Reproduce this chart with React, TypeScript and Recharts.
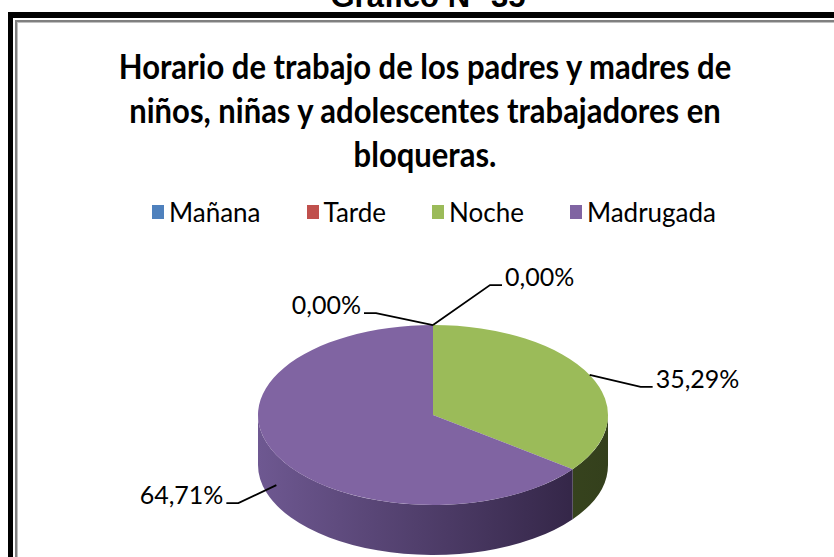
import { PieChart, Pie, Cell, Legend } from "recharts";

const categories = ["Mañana", "Tarde", "Noche", "Madrugada"];
const percentages = [0, 0, 35.29, 64.71];
const titleLines = [
  "Horario de trabajo de los padres y madres de",
  "niños, niñas y adolescentes trabajadores en",
  "bloqueras.",
];
const caption = "Gráfico N° 35";

const COLORS = ["#4f81bd", "#c0504d", "#9bbb59", "#8064a2"];
const SIDE_COLORS = [
  ["#3d6596", "#22395a"],
  ["#9a3e3b", "#5a2422"],
  ["#4b5b2a", "#34401c"],
  ["#6e5891", "#2e2140"],
];
// leader line elbows for each label (dx, dy from the slice anchor)
const LEADERS = [
  { dx: -57, dy: -12 },
  { dx: 57, dy: -40 },
  { dx: 51, dy: 12 },
  { dx: -38, dy: 18 },
];

const TILT = 0.514;
const DEPTH = 50;
const LEGEND_OFFSET = 35; // recharts shifts the plot down by the legend's height
const FONT = "Lato, 'Open Sans', sans-serif";

const data = categories.map((name, i) => ({ name, value: percentages[i] }));

const RAD = Math.PI / 180;
const pt = (cx: number, cy: number, rx: number, ry: number, a: number) => [
  cx + rx * Math.cos(a * RAD),
  cy - ry * Math.sin(a * RAD),
];

const Slice3D = (props: any) => {
  const { cx, cy, outerRadius, startAngle, endAngle } = props;
  const name = props.name ?? props.payload?.name;
  const idx = Math.max(0, categories.indexOf(name));
  const rx = outerRadius;
  const ry = outerRadius * TILT;
  const hi = Math.max(startAngle, endAngle);
  const lo = Math.min(startAngle, endAngle);
  if (hi - lo <= 0.001) return <g />;
  const [x1, y1] = pt(cx, cy, rx, ry, hi);
  const [x2, y2] = pt(cx, cy, rx, ry, lo);
  const large = hi - lo > 180 ? 1 : 0;
  const top = `M${cx},${cy} L${x1},${y1} A${rx},${ry} 0 ${large} 1 ${x2},${y2} Z`;
  const gid = `side-grad-${idx}`;
  const sides: string[] = [];
  for (const [fLo, fHi] of [
    [-540, -360],
    [-180, 0],
    [180, 360],
  ]) {
    const a = Math.max(lo, fLo);
    const b = Math.min(hi, fHi);
    if (b > a) {
      const [sx1, sy1] = pt(cx, cy, rx, ry, b);
      const [sx2, sy2] = pt(cx, cy, rx, ry, a);
      sides.push(
        `M${sx1},${sy1} A${rx},${ry} 0 0 1 ${sx2},${sy2} L${sx2},${sy2 + DEPTH} A${rx},${ry} 0 0 0 ${sx1},${sy1 + DEPTH} Z`
      );
    }
  }
  return (
    <g>
      <defs>
        <linearGradient id={gid} gradientUnits="userSpaceOnUse" x1={cx - rx} y1={0} x2={cx + rx} y2={0}>
          <stop offset="0%" stopColor={SIDE_COLORS[idx][0]} />
          <stop offset="100%" stopColor={SIDE_COLORS[idx][1]} />
        </linearGradient>
      </defs>
      {sides.map((d, i) => (
        <path key={i} d={d} fill={`url(#${gid})`} stroke="none" />
      ))}
      <path d={top} fill={COLORS[idx]} stroke="none" />
    </g>
  );
};

const renderLabel = (props: any) => {
  const { cx, cy, outerRadius, midAngle, index, value } = props;
  const rx = outerRadius;
  const ry = outerRadius * TILT;
  let [ax, ay] = pt(cx, cy, rx, ry, midAngle);
  if (Math.sin(midAngle * RAD) < -0.01) ay += DEPTH * 0.6;
  const { dx, dy } = LEADERS[index];
  const ex = ax + dx;
  const ey = ay + dy;
  const sign = dx < 0 ? -1 : 1;
  const tx = ex + sign * 12;
  const text = Number(value).toFixed(2).replace(".", ",") + "%";
  return (
    <g key={`lbl-${index}`}>
      <polyline points={`${ax},${ay} ${ex},${ey} ${tx},${ey}`} fill="none" stroke="#000" strokeWidth={1.8} />
      <text
        x={tx + sign * 3}
        y={ey + 1}
        textAnchor={sign < 0 ? "end" : "start"}
        fontFamily={FONT}
        fontSize={25}
        fill="#000"
      >
        {text}
      </text>
    </g>
  );
};

const renderLegend = () => (
  <div style={{ display: "flex", justifyContent: "center", fontFamily: FONT, fontSize: 26, lineHeight: "30px", color: "#000" }}>
    {categories.map((name, i) => (
      <div key={name} style={{ display: "flex", alignItems: "center", marginRight: i < categories.length - 1 ? 46 : 0 }}>
        <span style={{ display: "inline-block", width: 12, height: 14, background: COLORS[i], marginRight: 5 }} />
        <span>{name}</span>
      </div>
    ))}
  </div>
);

export default function App() {
  return (
    <div style={{ position: "absolute", left: 0, top: 0, width: 834, height: 557, overflow: "hidden", background: "#fff" }}>
      <svg width={834} height={557} style={{ position: "absolute", left: 0, top: 0 }}>
        <text x={428} y={7} textAnchor="middle" fontFamily="'Liberation Sans', Arial, sans-serif" fontWeight="bold" fontSize={31}>
          {caption}
        </text>
        <rect x={8} y={12} width={830} height={6} fill="#000" />
        <rect x={8} y={12} width={5} height={550} fill="#000" />
        <rect x={15} y={20} width={820} height={2} fill="#808080" />
        <rect x={15} y={20} width={2} height={540} fill="#808080" />
        <rect x={17} y={22} width={818} height={1} fill="#c0c0c0" />
        <rect x={17} y={22} width={1} height={540} fill="#c0c0c0" />
        {titleLines.map((line, i) => (
          <text
            key={i}
            x={425}
            y={0}
            transform={`translate(0 ${79 + i * 44}) scale(1 1.12)`}
            textAnchor="middle"
            fontFamily={FONT}
            fontWeight="bold"
            fontSize={31}
            fill="#000"
          >
            {line}
          </text>
        ))}
      </svg>
      <div style={{ position: "absolute", left: 0, top: 0 }}>
        <PieChart width={834} height={557}>
          <Legend verticalAlign="top" wrapperStyle={{ top: 197, left: 17, width: 834 }} content={renderLegend} />
          <Pie
            data={data}
            dataKey="value"
            nameKey="name"
            cx={428}
            cy={415 - LEGEND_OFFSET}
            outerRadius={175}
            startAngle={90}
            endAngle={-270}
            isAnimationActive={false}
            shape={Slice3D}
            inactiveShape={Slice3D}
            label={renderLabel}
            labelLine={false}
          >
            {data.map((_, i) => (
              <Cell key={`cell-${i}`} fill={COLORS[i]} />
            ))}
          </Pie>
        </PieChart>
      </div>
    </div>
  );
}
